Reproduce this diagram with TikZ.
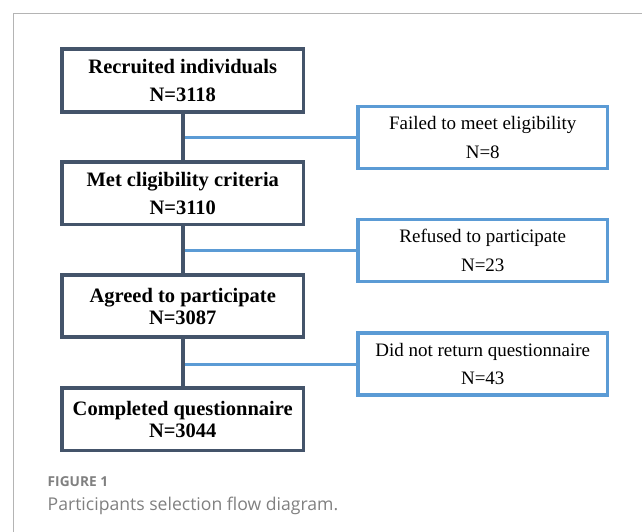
\documentclass[tikz,border=0pt]{standalone}
\usepackage{fontspec}
\setmainfont{Liberation Serif}
\newfontfamily\capfont{Open Sans}
\definecolor{boxdark}{HTML}{44546A}
\definecolor{boxblue}{HTML}{5B9BD5}
\definecolor{framegray}{HTML}{B4B4B4}
\definecolor{capgray}{HTML}{808080}

\begin{document}
\begin{tikzpicture}[x=1pt,y=-1pt,
  mainbox/.style={draw=boxdark,line width=3.6pt,minimum width=241.5pt,minimum height=62.5pt,inner sep=0pt,align=center,font=\fontsize{20.5}{22}\selectfont\bfseries},
  widebox/.style={mainbox,font=\fontsize{20.5}{28.5}\selectfont\bfseries},
  sidebox/.style={draw=boxblue,line width=3.6pt,minimum width=249.5pt,minimum height=62pt,inner sep=0pt,align=center,font=\fontsize{19}{28.5}\selectfont},
  mainline/.style={draw=boxdark,line width=3.6pt},
  sideline/.style={draw=boxblue,line width=3pt}]
\useasboundingbox (0,0) rectangle (642,532);
% frame
\path (13,532) coordinate (F1) (13,14) coordinate (F2) (642,14) coordinate (F3);
\draw[framegray,line width=1pt] (F1) -- (F2) -- (F3);
% main column
\node[widebox] (rec) at (182.75,80.5) {Recruited individuals\\N=3118};
\node[widebox] (met) at (182.75,193.3) {Met cligibility criteria\\N=3110};
\node[mainbox] (agr) at (182.75,306) {Agreed to participate\\N=3087};
\node[mainbox] (com) at (182.75,419.2) {Completed questionnaire\\N=3044};
% exclusions
\node[sidebox] (fail) at (482.75,137.5) {Failed to meet eligibility\\N=8};
\node[sidebox] (ref) at (482.75,250.5) {Refused to participate\\N=23};
\node[sidebox] (ret) at (482.75,364) {Did not return questionnaire\\N=43};
\draw[sideline] (fail.west) -- (fail.west -| rec.south);
\draw[sideline] (ref.west) -- (ref.west -| rec.south);
\draw[sideline] (ret.west) -- (ret.west -| rec.south);
\draw[mainline] (rec) -- (met);
\draw[mainline] (met) -- (agr);
\draw[mainline] (agr) -- (com);
% caption
\node[anchor=base west,inner sep=0pt,text=capgray,font=\capfont\bfseries\fontsize{13.7}{16}\selectfont] (fig) at (47.5,486) {FIGURE 1};
\node[anchor=base west,inner sep=0pt,text=capgray,font=\capfont\fontsize{17.6}{20}\selectfont] (cap) at (47.5,510.5) {Participants selection flow diagram.};
\end{tikzpicture}
\end{document}
